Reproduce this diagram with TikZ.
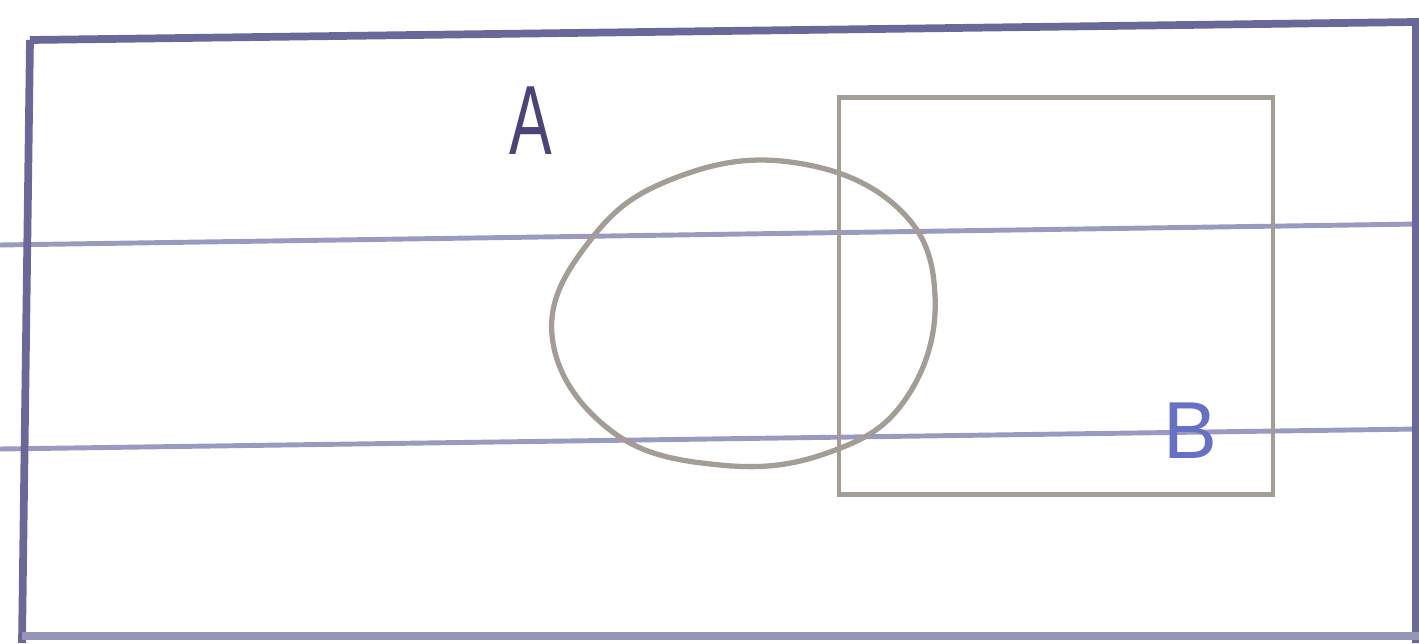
\documentclass[tikz,border=0pt]{standalone}
\usepackage{fontspec}
\setmainfont{Liberation Sans}
\usepackage{tikz}
\usetikzlibrary{positioning}
\definecolor{inkframe}{HTML}{6A6898}
\definecolor{ruled}{HTML}{9A9AC0}
\definecolor{pencil}{HTML}{A39D95}
\definecolor{inkA}{HTML}{4A4478}
\definecolor{inkB}{HTML}{6670C4}

\begin{document}
\begin{tikzpicture}[x=1cm,y=1cm]
\useasboundingbox (0,0) rectangle (14.19,6.43);
% ruled lines of the paper
\draw[ruled, line width=1.4pt] (0,3.98) -- (14.19,4.19);
\draw[ruled, line width=1.4pt] (0,1.94) -- (14.19,2.14);
% universal set
\draw[inkframe, line width=2.2pt] (0.30,6.03) -- (14.16,6.21) -- (14.16,0.00) (0.30,6.03) -- (0.22,0.00);
\draw[inkframe!70, line width=2pt] (0.22,0.07) -- (14.19,0.07);
% set B
\node[draw=pencil, line width=1.3pt, minimum width=4.34cm, minimum height=3.97cm, inner sep=0pt] (setB) at (10.56,3.47) {};
% set A (hand drawn oval)
\draw[pencil, line width=1.5pt] plot[smooth cycle, tension=0.7] coordinates {(5.52,3.08) (5.92,4.05) (6.75,4.65) (7.90,4.81) (8.97,4.36) (9.35,3.48) (9.07,2.46) (8.30,1.91) (7.20,1.78) (6.10,2.13)};
\node[inkA, font=\fontsize{28}{32}\selectfont, xscale=0.65] (labelA) at (5.31,5.22) {A};
\node[inkB, font=\fontsize{23}{27}\selectfont] (labelB) at (11.90,2.12) {B};
\end{tikzpicture}
\end{document}
